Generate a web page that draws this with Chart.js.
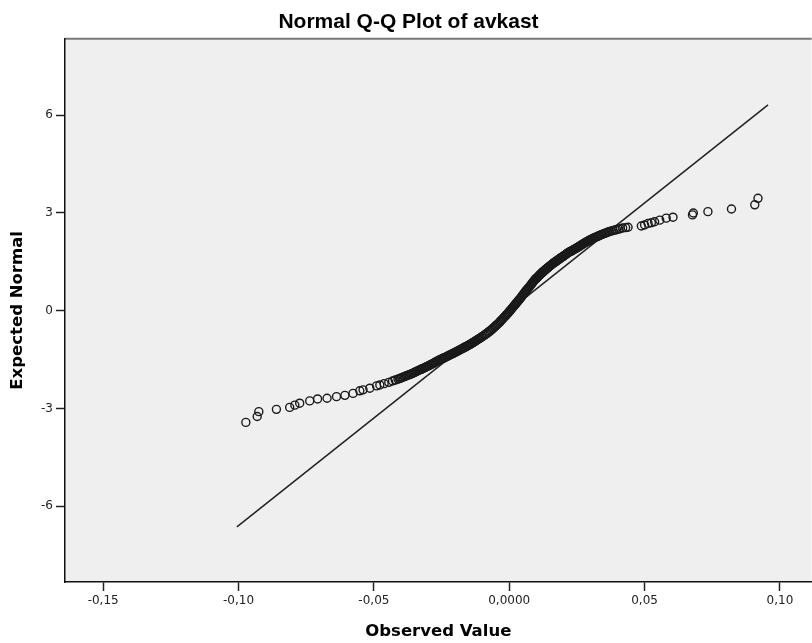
<!DOCTYPE html>
<html>
<head>
  <title>Normal Q-Q Plot of avkast</title>
  <script src="https://cdn.jsdelivr.net/npm/chart.js"></script>
  <style>
    body { margin: 0; background: #ffffff; overflow: hidden; }
    #chart { display: block; }
  </style>
</head>
<body>
  <!-- canvas runs a little past the right edge: the plot frame is cut off there -->
  <canvas id="chart" width="817" height="643"></canvas>

  <script>
    const observedValues = [
      -0.0973, -0.0931, -0.0925, -0.0860, -0.0811, -0.0792, -0.0774, -0.0737, -0.0708, -0.0673,
      -0.0638, -0.0607, -0.0577, -0.0552, -0.0540, -0.0515, -0.0490,
      -0.0478, -0.0462, -0.0445, -0.0431, -0.0421,
      -0.0411, -0.0401, -0.0392, -0.0383, -0.0374, -0.0364, -0.0356, -0.0348, -0.0341, -0.0333,
      -0.0325, -0.0318, -0.0310, -0.0303, -0.0295, -0.0288, -0.0281, -0.0275, -0.0268, -0.0261,
      -0.0254, -0.0246, -0.0239, -0.0231, -0.0224, -0.0217, -0.0209, -0.0202, -0.0195, -0.0188,
      -0.0181, -0.0174, -0.0168, -0.0161, -0.0155, -0.0148, -0.0142, -0.0136, -0.0130, -0.0124,
      -0.0119, -0.0113, -0.0107, -0.0102, -0.0097, -0.0091, -0.0086, -0.0081, -0.0076, -0.0071,
      -0.0067, -0.0063, -0.0059, -0.0055, -0.0052, -0.0048, -0.0044, -0.0040, -0.0036, -0.0033,
      -0.0030, -0.0026, -0.0023, -0.0020, -0.0016, -0.0013, -0.0010, -0.0006, -0.0003, 0.0000,
      0.0003, 0.0006, 0.0009, 0.0012, 0.0015, 0.0018, 0.0021, 0.0024, 0.0027, 0.0030,
      0.0033, 0.0036, 0.0039, 0.0042, 0.0045, 0.0047, 0.0050, 0.0053, 0.0056, 0.0058,
      0.0061, 0.0064, 0.0067, 0.0070, 0.0073, 0.0076, 0.0079, 0.0082, 0.0084, 0.0087,
      0.0090, 0.0093, 0.0096, 0.0100, 0.0104, 0.0107, 0.0111, 0.0114, 0.0118, 0.0122,
      0.0125, 0.0130, 0.0134, 0.0138, 0.0143, 0.0147, 0.0151, 0.0156, 0.0160, 0.0165,
      0.0170, 0.0175, 0.0180, 0.0185, 0.0190, 0.0196, 0.0201, 0.0206, 0.0211, 0.0216,
      0.0222, 0.0229, 0.0235, 0.0241, 0.0248, 0.0254, 0.0260, 0.0265, 0.0271, 0.0277,
      0.0283, 0.0290, 0.0296, 0.0303, 0.0309, 0.0317, 0.0326, 0.0334, 0.0342, 0.0352,
      0.0361, 0.0371, 0.0384, 0.0397, 0.0410, 0.0419, 0.0430, 0.0439,
      0.0488, 0.0500, 0.0513, 0.0525, 0.0537, 0.0556, 0.0580, 0.0605, 0.0677, 0.0680,
      0.0734, 0.0821, 0.0907, 0.0919
    ];
    const expectedNormal = [
      -3.43, -3.25, -3.10, -3.03, -2.97, -2.90, -2.84, -2.77, -2.71, -2.69,
      -2.64, -2.60, -2.54, -2.46, -2.43, -2.38, -2.31,
      -2.28, -2.24, -2.20, -2.16, -2.13,
      -2.10, -2.07, -2.04, -2.01, -1.98, -1.95, -1.92, -1.89, -1.86, -1.83,
      -1.80, -1.77, -1.74, -1.71, -1.68, -1.65, -1.62, -1.59, -1.56, -1.53,
      -1.50, -1.47, -1.44, -1.41, -1.38, -1.35, -1.32, -1.29, -1.26, -1.23,
      -1.20, -1.17, -1.14, -1.11, -1.08, -1.05, -1.02, -0.99, -0.96, -0.93,
      -0.90, -0.87, -0.84, -0.81, -0.78, -0.75, -0.72, -0.69, -0.66, -0.63,
      -0.60, -0.57, -0.54, -0.51, -0.48, -0.45, -0.42, -0.39, -0.36, -0.33,
      -0.30, -0.27, -0.24, -0.21, -0.18, -0.15, -0.12, -0.09, -0.06, -0.03,
      0.00, 0.03, 0.06, 0.09, 0.12, 0.15, 0.18, 0.21, 0.24, 0.27,
      0.30, 0.33, 0.36, 0.39, 0.42, 0.45, 0.48, 0.51, 0.54, 0.57,
      0.60, 0.63, 0.66, 0.69, 0.72, 0.75, 0.78, 0.81, 0.84, 0.87,
      0.90, 0.93, 0.96, 0.99, 1.02, 1.05, 1.08, 1.11, 1.14, 1.17,
      1.20, 1.23, 1.26, 1.29, 1.32, 1.35, 1.38, 1.41, 1.44, 1.47,
      1.50, 1.53, 1.56, 1.59, 1.62, 1.65, 1.68, 1.71, 1.74, 1.77,
      1.80, 1.83, 1.86, 1.89, 1.92, 1.95, 1.98, 2.01, 2.04, 2.07,
      2.10, 2.13, 2.16, 2.19, 2.22, 2.25, 2.28, 2.31, 2.34, 2.37,
      2.40, 2.43, 2.46, 2.49, 2.52, 2.54, 2.55, 2.56,
      2.60, 2.63, 2.68, 2.70, 2.73, 2.78, 2.84, 2.87, 2.94, 3.00,
      3.04, 3.12, 3.25, 3.45
    ];

    // further readings where the band is packed solid (lower and upper bends)
    const observedDense = [
      -0.0406, -0.0397, -0.0388, -0.0379, -0.0369, -0.0360, -0.0352, -0.0345, -0.0337, -0.0329,
      -0.0322, -0.0314, -0.0307, -0.0299, -0.0292, -0.0285, -0.0278, -0.0272, -0.0265, -0.0258,
      -0.0250, -0.0243, -0.0235, -0.0228, -0.0221, -0.0213, -0.0206, -0.0199, -0.0192, -0.0185,
      -0.0178, -0.0171, -0.0165, -0.0158, -0.0152, -0.0145, -0.0139, -0.0133, -0.0127, -0.0122,
      -0.0116, -0.0110,
      0.0098, 0.0102, 0.0106, 0.0109, 0.0113, 0.0116, 0.0120, 0.0124, 0.0128, 0.0132,
      0.0136, 0.0141, 0.0145, 0.0149, 0.0154, 0.0158, 0.0163, 0.0168, 0.0173, 0.0178,
      0.0183, 0.0188, 0.0193, 0.0199, 0.0204, 0.0209, 0.0214, 0.0219, 0.0226, 0.0232,
      0.0238, 0.0245, 0.0251, 0.0257, 0.0263, 0.0268, 0.0274, 0.0280, 0.0287, 0.0293,
      0.0300, 0.0306, 0.0313, 0.0322, 0.0330, 0.0338, 0.0347, 0.0357, 0.0366, 0.0378,
      0.0391, 0.0404
    ];
    const expectedDense = [
      -2.085, -2.055, -2.025, -1.995, -1.965, -1.935, -1.905, -1.875, -1.845, -1.815,
      -1.785, -1.755, -1.725, -1.695, -1.665, -1.635, -1.605, -1.575, -1.545, -1.515,
      -1.485, -1.455, -1.425, -1.395, -1.365, -1.335, -1.305, -1.275, -1.245, -1.215,
      -1.185, -1.155, -1.125, -1.095, -1.065, -1.035, -1.005, -0.975, -0.945, -0.915,
      -0.885, -0.855,
      0.975, 1.005, 1.035, 1.065, 1.095, 1.125, 1.155, 1.185, 1.215, 1.245,
      1.275, 1.305, 1.335, 1.365, 1.395, 1.425, 1.455, 1.485, 1.515, 1.545,
      1.575, 1.605, 1.635, 1.665, 1.695, 1.725, 1.755, 1.785, 1.815, 1.845,
      1.875, 1.905, 1.935, 1.965, 1.995, 2.025, 2.055, 2.085, 2.115, 2.145,
      2.175, 2.205, 2.235, 2.265, 2.295, 2.325, 2.355, 2.385, 2.415, 2.445,
      2.475, 2.505
    ];

    // reference line end points
    const refLineX = [-0.1006, 0.0956];
    const refLineY = [-6.64, 6.32];

    // axis ticks
    const xTickValues = [-0.15, -0.10, -0.05, 0, 0.05, 0.10];
    const xTickLabels = ['-0,15', '-0,10', '-0,05', '0,0000', '0,05', '0,10'];
    const yTickValues = [-6, -3, 0, 3, 6];
    const yTickLabels = ['-6', '-3', '0', '3', '6'];

    const points = observedValues.map((x, i) => ({ x: x, y: expectedNormal[i] }))
      .concat(observedDense.map((x, i) => ({ x: x, y: expectedDense[i] })));
    const refLine = refLineX.map((x, i) => ({ x: x, y: refLineY[i] }));

    // grey plot background and frame
    const plotFrame = {
      id: 'plotFrame',
      beforeDraw(chart) {
        const { ctx, chartArea: a } = chart;
        ctx.save();
        ctx.fillStyle = '#efefef';
        ctx.fillRect(a.left, a.top, a.right - a.left, a.bottom - a.top);
        ctx.strokeStyle = '#7a7a7a';
        ctx.lineWidth = 2;
        ctx.beginPath();
        ctx.moveTo(a.left, a.top);
        ctx.lineTo(a.right, a.top);
        ctx.stroke();
        ctx.restore();
      }
    };

    const tickFont = { family: 'DejaVu Sans', size: 12 };
    const axisTitleFont = { family: 'DejaVu Sans', size: 16.5, weight: 'bold' };

    new Chart(document.getElementById('chart').getContext('2d'), {
      type: 'scatter',
      data: {
        datasets: [
          {
            type: 'line',
            data: refLine,
            borderColor: '#222',
            borderWidth: 1.5,
            pointRadius: 0,
            fill: false,
            order: 2
          },
          {
            data: points,
            pointStyle: 'circle',
            pointRadius: 4,
            pointHoverRadius: 4,
            borderWidth: 1.4,
            borderColor: '#1a1a1a',
            backgroundColor: 'rgba(0,0,0,0)',
            order: 1
          }
        ]
      },
      options: {
        responsive: false,
        animation: false,
        devicePixelRatio: 1,
        layout: { padding: 0 },
        plugins: {
          legend: { display: false },
          tooltip: { enabled: false },
          title: {
            display: true,
            text: 'Normal Q-Q Plot of avkast',
            color: '#000',
            font: { family: 'Liberation Sans', size: 21, weight: 'bold' },
            padding: { top: 9.4, bottom: 4.1 }
          }
        },
        scales: {
          x: {
            type: 'linear',
            min: -0.1641,
            max: 0.1117,
            afterBuildTicks: (scale) => { scale.ticks = xTickValues.map(v => ({ value: v })); },
            afterFit: (scale) => { scale.height = 61; },
            ticks: {
              font: tickFont,
              color: '#222',
              padding: 3,
              maxRotation: 0,
              callback: (v) => xTickLabels[xTickValues.findIndex(t => Math.abs(t - v) < 1e-9)]
            },
            grid: { drawOnChartArea: false, drawTicks: true, tickLength: 9, tickWidth: 1.5, tickColor: '#222' },
            border: { display: true, color: '#111', width: 1.5 },
            title: {
              display: true,
              text: 'Observed Value',
              color: '#000',
              font: axisTitleFont,
              padding: { top: 0, bottom: 1.2 }
            }
          },
          y: {
            type: 'linear',
            min: -8.33,
            max: 8.35,
            afterBuildTicks: (scale) => { scale.ticks = yTickValues.map(v => ({ value: v })); },
            afterFit: (scale) => { scale.width = 65; },
            ticks: {
              font: tickFont,
              color: '#222',
              padding: 3,
              callback: (v) => yTickLabels[yTickValues.indexOf(v)]
            },
            grid: { drawOnChartArea: false, drawTicks: true, tickLength: 9, tickWidth: 1.5, tickColor: '#222' },
            border: { display: true, color: '#111', width: 1.5 },
            title: {
              display: true,
              text: 'Expected Normal',
              color: '#000',
              font: axisTitleFont,
              padding: { top: 8.1, bottom: 0 }
            }
          }
        }
      },
      plugins: [plotFrame]
    });
  </script>
</body>
</html>
